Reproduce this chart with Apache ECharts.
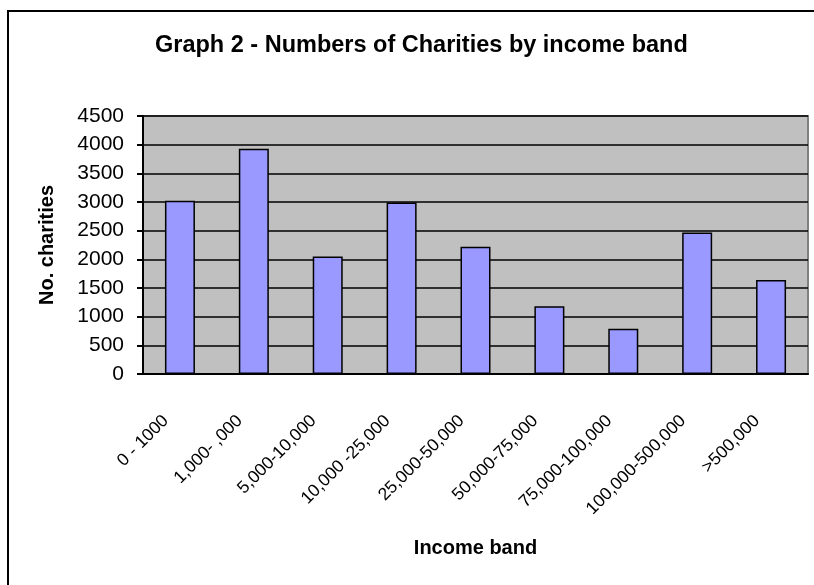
<!DOCTYPE html>
<html>
<head>
<meta charset="utf-8">
<script src="https://cdn.jsdelivr.net/npm/echarts@6/dist/echarts.min.js"></script>
<style>
  html, body { margin: 0; padding: 0; background: #fff; }
</style>
</head>
<body>
<div id="chart" style="width: 814px; height: 585px"></div>
<script>
// income bands and counts
const bands = [
  "0 - 1000",
  "1,000- ,000",
  "5,000-10,000",
  "10,000 -25,000",
  "25,000-50,000",
  "50,000-75,000",
  "75,000-100,000",
  "100,000-500,000",
  ">500,000",
];
const charities = [3020, 3930, 2050, 2990, 2220, 1180, 790, 2470, 1640];

const font = "Arial, 'Liberation Sans', sans-serif";

const chart = echarts.init(document.getElementById("chart"));
chart.setOption({
  animation: false,
  backgroundColor: "#fff",
  title: {
    text: "Graph 2 - Numbers of Charities by income band",
    left: 150,
    top: 29,
    textStyle: { fontFamily: font, fontSize: 23.5, fontWeight: "bold", color: "#000" },
  },
  grid: {
    left: 143,
    right: 6,
    top: 116,
    bottom: 211,
    show: true,
    backgroundColor: "#c0c0c0",
    borderColor: "#808080",
    borderWidth: 2,
  },
  xAxis: {
    type: "category",
    data: bands,
    name: "Income band",
    nameLocation: "middle",
    nameGap: 164,
    nameTextStyle: { fontFamily: font, fontSize: 20, fontWeight: "bold", color: "#000" },
    axisLine: { lineStyle: { color: "#000", width: 2 } },
    axisTick: { length: 8, lineStyle: { color: "#000", width: 2 } },
    axisLabel: {
      interval: 0,
      rotate: 45,
      margin: 30,
      padding: [0, 20, 0, 0],
      fontFamily: font,
      fontSize: 17.5,
      color: "#000",
    },
  },
  yAxis: {
    type: "value",
    min: 0,
    max: 4500,
    interval: 500,
    name: "No. charities",
    nameLocation: "middle",
    nameGap: 86,
    nameTextStyle: { fontFamily: font, fontSize: 20, fontWeight: "bold", color: "#000" },
    axisLine: { show: true, lineStyle: { color: "#000", width: 2 } },
    axisTick: { show: true, length: 6, lineStyle: { color: "#000", width: 2 } },
    axisLabel: {
      margin: 19,
      fontFamily: font,
      fontSize: 21,
      color: "#000",
      formatter: (v) => String(v),
    },
    splitLine: { lineStyle: { color: "#000", width: 1.5 } },
  },
  series: [
    {
      type: "bar",
      data: charities,
      barWidth: 30,
      itemStyle: { color: "#9999ff", borderColor: "#000", borderWidth: 1.5 },
    },
  ],
  graphic: [
    {
      type: "rect",
      shape: { x: 8, y: 11, width: 900, height: 700 },
      style: { fill: null, stroke: "#000", lineWidth: 2 },
      silent: true,
    },
  ],
});
</script>
</body>
</html>
